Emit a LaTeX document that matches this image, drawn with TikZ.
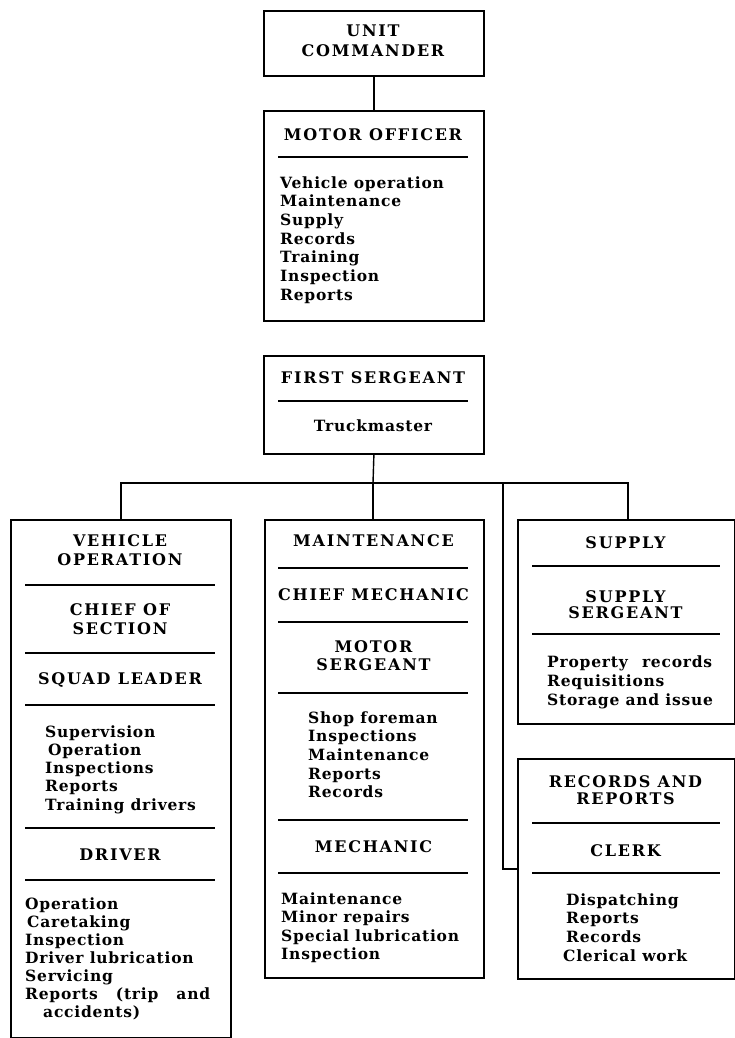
\documentclass[tikz,border=0pt]{standalone}
\usepackage{fontspec}
\setmainfont{DejaVu Serif}
\newfontfamily\capfont[LetterSpace=11]{DejaVu Serif}
\newfontfamily\itemfont[LetterSpace=5]{DejaVu Serif}
\begin{document}
\begin{tikzpicture}[x=1pt,y=-1pt,
  box/.style={draw, line width=1.8pt, inner sep=0pt, anchor=north west},
  sepl/.style={line width=1.6pt},
  conn/.style={line width=1.4pt},
  hd/.style={font=\capfont\bfseries\fontsize{16}{18}\selectfont, anchor=base, inner sep=0pt},
  it/.style={font=\itemfont\bfseries\fontsize{15.5}{18}\selectfont, anchor=base west, inner sep=0pt},
  itc/.style={it, anchor=base}]
\useasboundingbox (0,0) rectangle (735,1038);
\clip (0,0) rectangle (735,1038);

% Unit commander
\node[box, minimum width=220, minimum height=65] (uc) at (263,10) {};
\node[hd] (uc1) at (373,37) {UNIT};
\node[hd] (uc2) at (373,57) {COMMANDER};

% Motor officer
\node[box, minimum width=220, minimum height=210] (mo) at (263,110) {};
\node[hd] (mo0) at (373,140) {MOTOR OFFICER};
\draw[sepl] (278,157) -- (468,157);
\foreach \t [count=\i] in {Vehicle operation, Maintenance, Supply, Records, Training, Inspection, Reports}
  \node[it] (mo\i) at (280,{188+18.7*(\i-1)}) {\t};

% First sergeant
\node[box, minimum width=220, minimum height=98] (fs) at (263,355) {};
\node[hd] (fs0) at (373,383) {FIRST SERGEANT};
\draw[sepl] (278,401) -- (468,401);
\node[itc] (fs1) at (373,431) {Truckmaster};

% Vehicle operation
\node[box, minimum width=220, minimum height=518] (vo) at (10,519) {};
\node[hd] (vo1) at (120,546) {VEHICLE};
\node[hd] (vo2) at (120,565) {OPERATION};
\draw[sepl] (25,585) -- (215,585);
\node[hd] (vo3) at (120,615.5) {CHIEF OF};
\node[hd] (vo4) at (120,634) {SECTION};
\draw[sepl] (25,653) -- (215,653);
\node[hd] (vo5) at (120,684) {SQUAD LEADER};
\draw[sepl] (25,705) -- (215,705);
\foreach \t/\xx [count=\i] in {Supervision/45, Operation/48, Inspections/45, Reports/45, Training drivers/45}
  \node[it] (sl\i) at (\xx,{737+18.3*(\i-1)}) {\t};
\draw[sepl] (25,828) -- (215,828);
\node[hd] (vo6) at (120,860) {DRIVER};
\draw[sepl] (25,880) -- (215,880);
\foreach \t/\xx [count=\i] in {Operation/25, Caretaking/27, Inspection/25, Driver lubrication/25, Servicing/25, {\makebox[185pt][s]{Reports (trip and}}/25, accidents)/43}
  \node[it] (dr\i) at (\xx,{909+18*(\i-1)}) {\t};

% Maintenance
\node[box, minimum width=219, minimum height=458] (mt) at (264,519) {};
\node[hd] (mt1) at (373.5,546) {MAINTENANCE};
\draw[sepl] (278,568) -- (468,568);
\node[hd] (mt2) at (373.5,600) {CHIEF MECHANIC};
\draw[sepl] (278,622) -- (468,622);
\node[hd] (mt3) at (373.5,652) {MOTOR};
\node[hd] (mt4) at (373.5,670) {SERGEANT};
\draw[sepl] (278,693) -- (468,693);
\foreach \t [count=\i] in {Shop foreman, Inspections, Maintenance, Reports, Records}
  \node[it] (ms\i) at (308,{723+18.7*(\i-1)}) {\t};
\draw[sepl] (278,820) -- (468,820);
\node[hd] (mt5) at (373.5,852) {MECHANIC};
\draw[sepl] (278,873) -- (468,873);
\foreach \t [count=\i] in {Maintenance, Minor repairs, Special lubrication, Inspection}
  \node[it] (me\i) at (281,{904+18.5*(\i-1)}) {\t};

% Supply
\node[box, minimum width=217, minimum height=204] (sp) at (517,519) {};
\node[hd] (sp1) at (625.5,548) {SUPPLY};
\draw[sepl] (532,566) -- (720,566);
\node[hd] (sp2) at (625.5,602) {SUPPLY};
\node[hd] (sp3) at (625.5,618) {SERGEANT};
\draw[sepl] (532,634) -- (720,634);
\foreach \t [count=\i] in {{\makebox[165pt][s]{Property records}}, Requisitions, Storage and issue}
  \node[it] (ss\i) at (547,{667+19*(\i-1)}) {\t};

% Records and reports
\node[box, minimum width=217, minimum height=220] (rr) at (517,758) {};
\node[hd] (rr1) at (625.5,787) {RECORDS AND};
\node[hd] (rr2) at (625.5,804) {REPORTS};
\draw[sepl] (532,823) -- (720,823);
\node[hd] (rr3) at (625.5,856) {CLERK};
\draw[sepl] (532,873) -- (720,873);
\foreach \t/\xx [count=\i] in {Dispatching/566, Reports/566, Records/566, Clerical work/563}
  \node[it] (cl\i) at (\xx,{905+18.7*(\i-1)}) {\t};

% connectors
\coordinate (jm) at (373,483);
\coordinate (jr) at (628,483);
\coordinate (jc) at (503,483);
\draw[conn] (uc.south) -- (mo.north);
\draw[conn] (fs.south) -- (jm);
\draw[conn] (vo.north) |- (jr) -- (jr |- sp.north);
\draw[conn] (jm) -- (jm |- mt.north);
\draw[conn] (jc) |- (rr.west);
\end{tikzpicture}
\end{document}
